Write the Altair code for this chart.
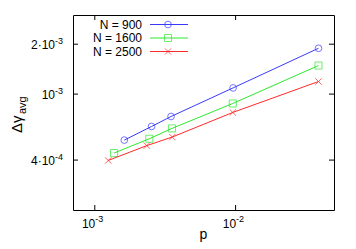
import altair as alt
import pandas as pd

series = ["N = 900", "N = 1600", "N = 2500"]
colors = ["#3a3aff", "#2ee82e", "#ff2a2a"]
p_900 = [1.62e-3, 2.53e-3, 3.48e-3, 9.6e-3, 3.88e-2]
d_900 = [5.28e-4, 6.38e-4, 7.33e-4, 1.09e-3, 1.89e-3]
p_1600 = [1.37e-3, 2.44e-3, 3.53e-3, 9.55e-3, 3.88e-2]
d_1600 = [4.41e-4, 5.38e-4, 6.21e-4, 8.78e-4, 1.487e-3]
p_2500 = [1.245e-3, 2.34e-3, 3.55e-3, 9.55e-3, 3.88e-2]
d_2500 = [3.98e-4, 4.89e-4, 5.51e-4, 7.75e-4, 1.191e-3]
x_ticks = [1e-3, 1e-2]
x_main = ["10", "10"]
x_sup = ["-3", "-2"]
y_ticks = [4e-4, 1e-3, 2e-3]
y_main = ["4·10", "10", "2·10"]
y_sup = ["-4", "-3", "-3"]

W, H = 261, 195
FONT = "Liberation Sans"

xs = alt.Scale(type="log", domain=[7e-4, 5e-2], nice=False)
ys = alt.Scale(type="log", domain=[2e-4, 3e-3], nice=False)

shapes = ["circle", "square", "M-1,-1L1,1M-1,1L1,-1"]
sizes = [45, 50, 40]
data = [(p_900, d_900), (p_1600, d_1600), (p_2500, d_2500)]

layers = []

for s, c, sh, sz, (pv, dv) in zip(series, colors, shapes, sizes, data):
    df = pd.DataFrame({"p": pv, "d": dv})
    layers.append(alt.Chart(df).mark_line(color=c, strokeWidth=1).encode(
        x=alt.X("p:Q", scale=xs, axis=None), y=alt.Y("d:Q", scale=ys, axis=None)))
    layers.append(alt.Chart(df).mark_point(color=c, shape=sh, size=sz, filled=False, strokeWidth=1).encode(
        x=alt.X("p:Q", scale=xs, axis=None), y=alt.Y("d:Q", scale=ys, axis=None)))

# inward ticks
xt = pd.DataFrame({"p": x_ticks, "m": x_main, "s": x_sup})
yt = pd.DataFrame({"d": y_ticks, "m": y_main, "s": y_sup})
for y0, y1 in [(H, H - 5), (0, 5)]:
    layers.append(alt.Chart(xt).mark_rule(color="black", strokeWidth=1).encode(
        x=alt.X("p:Q", scale=xs, axis=None), y=alt.value(y0), y2=alt.value(y1)))
for x0, x1 in [(0, 5), (W, W - 5)]:
    layers.append(alt.Chart(yt).mark_rule(color="black", strokeWidth=1).encode(
        y=alt.Y("d:Q", scale=ys, axis=None), x=alt.value(x0), x2=alt.value(x1)))

# tick labels
layers.append(alt.Chart(xt).mark_text(align="right", baseline="alphabetic", fontSize=12, font=FONT,
              color="black", dx=0.5).encode(text="m:N", x=alt.X("p:Q", scale=xs, axis=None), y=alt.value(213)))
layers.append(alt.Chart(xt).mark_text(align="left", baseline="alphabetic", fontSize=9, font=FONT,
              color="black", dx=0.5).encode(text="s:N", x=alt.X("p:Q", scale=xs, axis=None), y=alt.value(207)))
layers.append(alt.Chart(yt).mark_text(align="right", baseline="alphabetic", fontSize=12, font=FONT,
              color="black", dy=4.5).encode(text="m:N", y=alt.Y("d:Q", scale=ys, axis=None), x=alt.value(-18)))
layers.append(alt.Chart(yt).mark_text(align="right", baseline="alphabetic", fontSize=9, font=FONT,
              color="black", dy=-0.5).encode(text="s:N", y=alt.Y("d:Q", scale=ys, axis=None), x=alt.value(-10)))

# legend
for i, (s, c, sh, sz) in enumerate(zip(series, colors, shapes, sizes)):
    ly = 9.5 + i * 13.5
    ldf = pd.DataFrame({"s": [s]})
    layers.append(alt.Chart(ldf).mark_text(align="right", baseline="middle", fontSize=12, font=FONT,
                  color="black").encode(text="s:N", x=alt.value(69), y=alt.value(ly)))
    layers.append(alt.Chart(ldf).mark_rule(color=c, strokeWidth=1).encode(
        x=alt.value(77), x2=alt.value(115), y=alt.value(ly)))
    layers.append(alt.Chart(ldf).mark_point(color=c, shape=sh, size=sz, filled=False, strokeWidth=1).encode(
        x=alt.value(95), y=alt.value(ly)))

# axis titles
tdf = pd.DataFrame({"t": ["Δγ"], "u": ["avg"], "p": ["p"]})
layers.append(alt.Chart(tdf).mark_text(angle=270, align="left", baseline="middle", fontSize=15,
              font=FONT, color="black").encode(text="t:N", x=alt.value(-56), y=alt.value(118)))
layers.append(alt.Chart(tdf).mark_text(angle=270, align="left", baseline="middle", fontSize=11,
              font=FONT, color="black").encode(text="u:N", x=alt.value(-50), y=alt.value(99)))
layers.append(alt.Chart(tdf).mark_text(align="center", baseline="alphabetic", fontSize=14,
              font=FONT, color="black").encode(text="p:N", x=alt.value(W / 2), y=alt.value(224)))

chart = alt.layer(*layers).properties(
    width=W, height=H, autosize="none",
    padding={"left": 65, "top": 7, "right": 14, "bottom": 34},
).configure_view(stroke="black", strokeWidth=1)

chart.save("out.html", embed_options={"renderer": "svg", "actions": False})
